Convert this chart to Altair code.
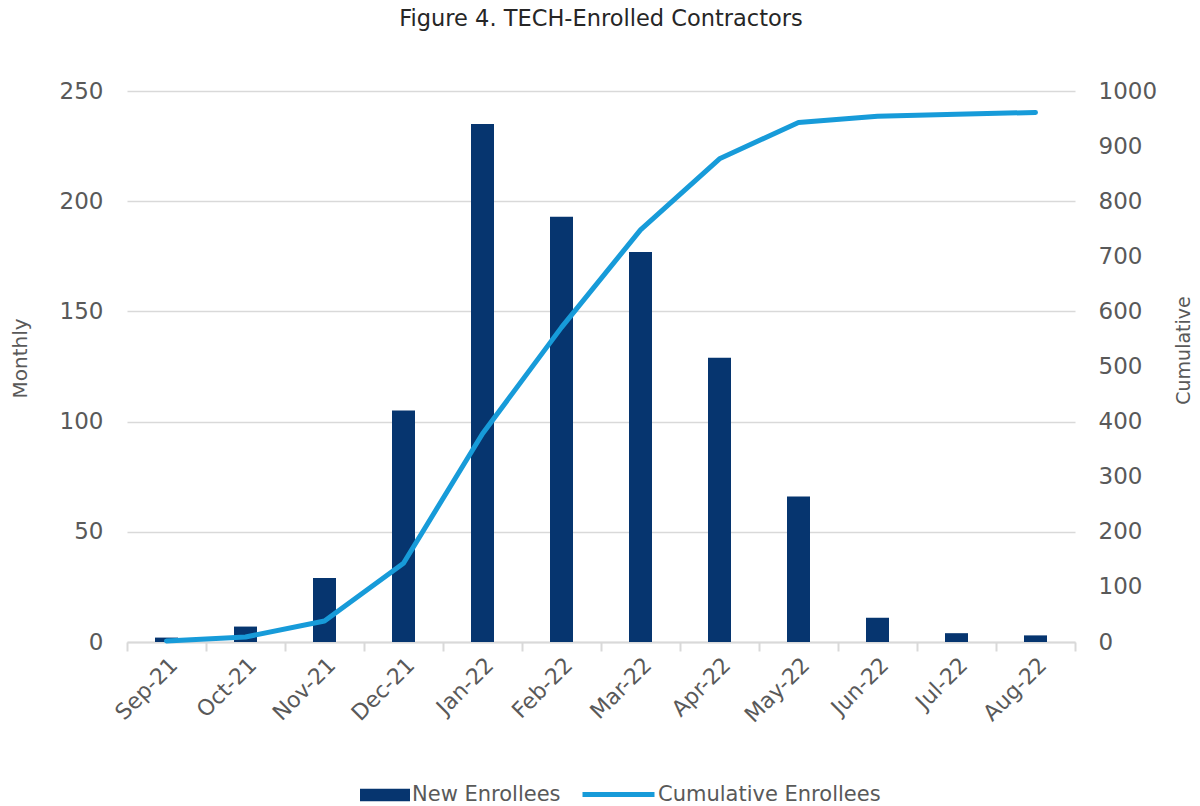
import altair as alt
import pandas as pd

# Monthly and running enrolment counts, Sep 2021 - Aug 2022
months = ["Sep-21", "Oct-21", "Nov-21", "Dec-21", "Jan-22", "Feb-22",
          "Mar-22", "Apr-22", "May-22", "Jun-22", "Jul-22", "Aug-22"]
new_enrollees = [2, 7, 29, 105, 235, 193, 177, 129, 66, 11, 4, 3]
cumulative_enrollees = [2, 9, 38, 143, 378, 571, 748, 877, 943, 954, 958, 961]

monthly_ticks = [0, 50, 100, 150, 200, 250]
cumulative_ticks = [0, 100, 200, 300, 400, 500, 600, 700, 800, 900, 1000]

df = pd.DataFrame({
    "month": months,
    "new": new_enrollees,
    "cum": cumulative_enrollees,
    "s_new": "New Enrollees",
    "s_cum": "Cumulative Enrollees",
})

FONT = "DejaVu Sans"
TEXT = "#595959"
GRID = "#d9d9d9"
NAVY = "#06356F"
BLUE = "#179BD9"

x = alt.X(
    "month:N", sort=months, title=None,
    scale=alt.Scale(paddingInner=0, paddingOuter=0),
    axis=alt.Axis(
        labelAngle=-45, labelAlign="right", labelBaseline="top",
        labelFont=FONT, labelFontSize=22, labelColor=TEXT, labelPadding=3,
        tickBand="extent", ticks=True, tickColor=GRID, tickSize=9, tickWidth=2,
        domainColor=GRID, domainWidth=2, grid=False,
    ),
)

bars = alt.Chart(df).mark_bar(size=23).encode(
    x=x,
    y=alt.Y(
        "new:Q", scale=alt.Scale(domain=[0, 250]),
        axis=alt.Axis(
            values=monthly_ticks, format="d", title="Monthly", grid=True,
            gridColor=GRID, gridWidth=1.5, domain=False, ticks=False,
            labelFont=FONT, labelFontSize=23, labelColor=TEXT, labelPadding=24,
            titleFont=FONT, titleFontSize=20, titleColor=TEXT,
            titleFontWeight="normal", titleAngle=-90, titleX=-107, titleY=267,
            titleAlign="center", titleBaseline="middle",
        ),
    ),
    fill=alt.Fill(
        "s_new:N",
        scale=alt.Scale(domain=["New Enrollees"], range=[NAVY]),
        legend=alt.Legend(
            title=None, orient="none", legendX=233, legendY=679, padding=0,
            symbolType="M-1,-0.25H1V0.25H-1Z", symbolSize=2500,
            symbolStrokeWidth=0, labelOffset=2, labelLimit=400,
            labelFont=FONT, labelFontSize=21, labelColor=TEXT,
        ),
    ),
)

line = alt.Chart(df).mark_line(
    strokeWidth=5, strokeCap="round", strokeJoin="round"
).encode(
    x=x,
    y=alt.Y(
        "cum:Q", scale=alt.Scale(domain=[0, 1000]),
        axis=alt.Axis(
            orient="right", values=cumulative_ticks, format="d",
            title="Cumulative", grid=False, domain=False, ticks=False,
            labelFont=FONT, labelFontSize=23, labelColor=TEXT, labelPadding=23,
            titleFont=FONT, titleFontSize=19, titleColor=TEXT,
            titleFontWeight="normal", titleAngle=-90, titleX=108, titleY=259,
            titleAlign="center", titleBaseline="middle",
        ),
    ),
    stroke=alt.Stroke(
        "s_cum:N",
        scale=alt.Scale(domain=["Cumulative Enrollees"], range=[BLUE]),
        legend=alt.Legend(
            title=None, orient="none", legendX=453, legendY=665, padding=0,
            symbolType="stroke", symbolSize=5184, symbolStrokeWidth=5,
            labelOffset=1, labelLimit=400,
            labelFont=FONT, labelFontSize=21, labelColor=TEXT,
        ),
    ),
)

chart = alt.layer(bars, line).resolve_scale(
    y="independent", fill="independent", stroke="independent"
).properties(
    width=948, height=551,
    padding={"left": 127, "top": 91, "right": 125, "bottom": 164},
    autosize=alt.AutoSizeParams(type="none"),
    background="white",
    title=alt.TitleParams(
        "Figure 4. TECH-Enrolled Contractors", font=FONT, fontSize=22.5,
        fontWeight="normal", color="#262626", anchor="middle", offset=50,
    ),
).configure_view(stroke=None)

chart.save("out.html", embed_options={"renderer": "svg", "actions": False})
